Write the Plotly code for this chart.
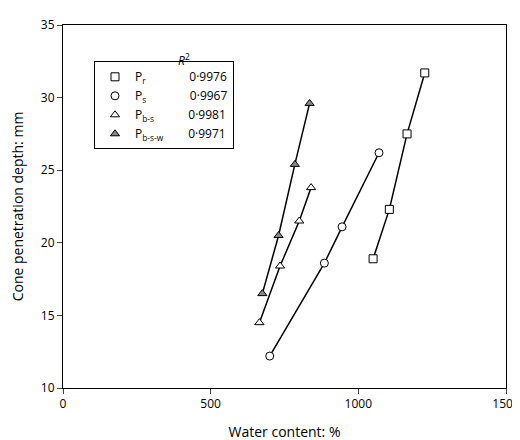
import plotly.graph_objects as go

names = ["P<sub>r</sub>", "P<sub>s</sub>", "P<sub>b-s</sub>", "P<sub>b-s-w</sub>"]
r2 = ["0·9976", "0·9967", "0·9981", "0·9971"]
symbols = ["square", "circle", "triangle-up", "triangle-up"]
fills = ["white", "white", "white", "#888888"]
pads = [14, 14, 11, 8]

x_pr = [1050, 1105, 1165, 1225]
y_pr = [18.9, 22.3, 27.5, 31.7]
x_ps = [700, 885, 945, 1070]
y_ps = [12.2, 18.6, 21.1, 26.2]
x_pbs = [665, 735, 800, 840]
y_pbs = [14.5, 18.4, 21.5, 23.8]
x_pbsw = [675, 730, 785, 835]
y_pbsw = [16.5, 20.5, 25.4, 29.6]

xs = [x_pr, x_ps, x_pbs, x_pbsw]
ys = [y_pr, y_ps, y_pbs, y_pbsw]

fig = go.Figure()
for x, y in zip(xs, ys):
    fig.add_trace(go.Scatter(x=x, y=y, mode="lines", showlegend=False,
                             line=dict(color="black", width=1.5)))
for n, r, s, f, p, x, y in zip(names, r2, symbols, fills, pads, xs, ys):
    fig.add_trace(go.Scatter(
        x=x, y=y, mode="markers",
        name=n + "&nbsp;" * p + r,
        marker=dict(symbol=s, size=8, color=f, line=dict(color="black", width=1)),
    ))

fig.update_layout(
    width=520, height=440,
    font=dict(family="Open Sans", size=12, color="black"),
    plot_bgcolor="white", paper_bgcolor="white",
    margin=dict(l=52, r=20, t=8, b=60),
    legend=dict(x=0.07, y=0.9, xanchor="left", yanchor="top",
                bordercolor="black", borderwidth=1, bgcolor="white",
                font=dict(size=12), tracegroupgap=0),
    annotations=[dict(text="<i>R</i><sup>2</sup>", xref="paper", yref="paper",
                      x=0.255, y=0.935, showarrow=False, font=dict(size=12))],
)
fig.update_xaxes(range=[0, 1500], tickvals=[0, 500, 1000, 1500], ticks="outside",
                 showline=True, linecolor="black", mirror=True, showgrid=False,
                 zeroline=False, title="Water content: %", tickformat="d")
fig.update_yaxes(range=[10, 35], dtick=5, ticks="outside",
                 showline=True, linecolor="black", mirror=True, showgrid=False,
                 zeroline=False, title="Cone penetration depth: mm")

fig.write_html("out.html")
